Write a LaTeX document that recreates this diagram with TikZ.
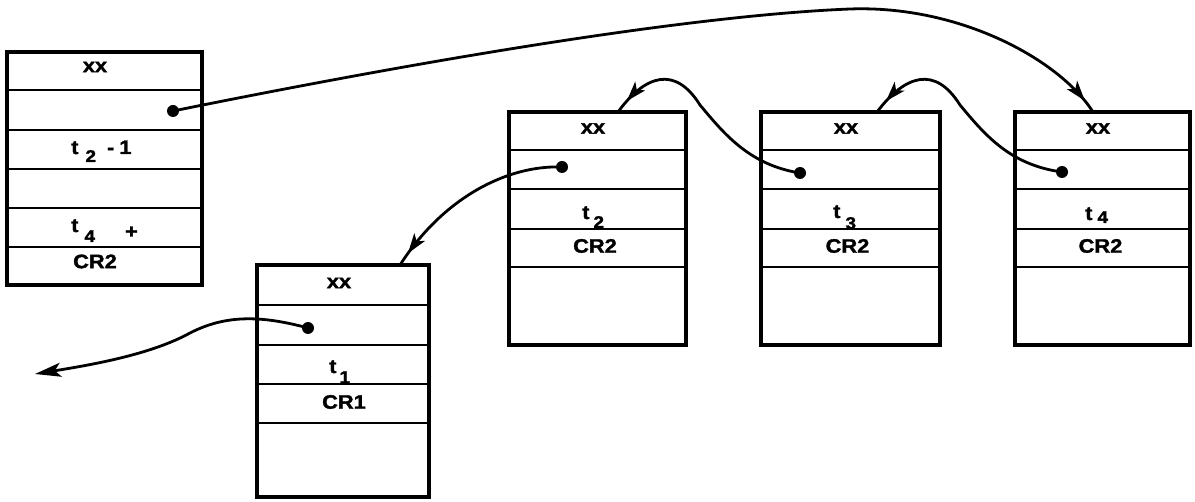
\documentclass[tikz,border=0pt]{standalone}
\usepackage{fontspec}
\newfontfamily\labfont{Liberation Sans}[FakeStretch=1.12, BoldFeatures={FakeBold=1.6}]
\usetikzlibrary{arrows.meta,decorations.markings}
\newcommand\subdig[2]{\raisebox{-#2}{\fontsize{17}{18}\selectfont #1}}
\tikzset{
  box/.style={draw, line width=3.6pt, rectangle, inner sep=0pt, outer sep=0pt},
  rowline/.style={line width=2.4pt},
  lab/.style={inner sep=0pt, font=\labfont\bfseries\fontsize{19.5}{22}\selectfont},
  ptr/.style={circle, fill, inner sep=0pt, minimum size=12pt},
  link/.style={line width=2.8pt},
  midtip/.style={postaction={decorate}, decoration={markings,
      mark=at position #1 with {\arrow{Stealth[length=20pt,width=13pt,inset=5pt]}}}},
}
\begin{document}
\begin{tikzpicture}[x=1pt,y=-1pt]
\useasboundingbox (0,0) rectangle (1195,502);
% boxes
\node[box, minimum width=195pt, minimum height=233pt] (b0) at (104.5,168.5) {};
\node[box, minimum width=172pt, minimum height=232pt] (b1) at (343,381) {};
\node[box, minimum width=177pt, minimum height=233pt] (b2) at (597.5,228.5) {};
\node[box, minimum width=179pt, minimum height=233pt] (b3) at (850.5,228.5) {};
\node[box, minimum width=175pt, minimum height=233pt] (b4) at (1102.5,228.5) {};
% row lines
\foreach \b/\d in {b0/38,b0/78,b0/117,b0/156,b0/195,
                   b1/40,b1/80,b1/119,b1/158,
                   b2/38,b2/77,b2/117,b2/155,
                   b3/38,b3/77,b3/117,b3/155,
                   b4/38,b4/77,b4/117,b4/155}
  \draw[rowline] ([yshift=-\d pt]\b.north west) -- ([yshift=-\d pt]\b.north east);
% labels box0
\node[lab] (x0) at (95,67) {xx};
\node[lab, anchor=base west] (t0a) at (71,154) {t\hspace{7pt}\subdig{2}{8pt}\hspace{11pt}-\hspace{5pt}1};
\node[lab, anchor=base west] (t0b) at (71,232) {t\hspace{6pt}\subdig{4}{10pt}\hspace{30pt}\raisebox{-6pt}{+}};
\node[lab] (c0) at (95,261.5) {CR2};
% labels box1
\node[lab] (x1) at (339,283) {xx};
\node[lab, anchor=base west] (t1) at (329,373) {t\hspace{3pt}\subdig{1}{10pt}};
\node[lab] (c1) at (344,402) {CR1};
% labels box2
\node[lab] (x2) at (593,128.5) {xx};
\node[lab, anchor=base west] (t2) at (582,219) {t\hspace{4pt}\subdig{2}{9pt}};
\node[lab] (c2) at (595,246) {CR2};
% labels box3
\node[lab] (x3) at (846,128.5) {xx};
\node[lab, anchor=base west] (t3) at (833,218) {t\hspace{5pt}\subdig{3}{11pt}};
\node[lab] (c3) at (847.5,246) {CR2};
% labels box4
\node[lab] (x4) at (1098,128.5) {xx};
\node[lab, anchor=base west] (t4) at (1085,220) {t\hspace{5pt}\subdig{4}{3pt}};
\node[lab] (c4) at (1100.5,246) {CR2};
% pointer dots
\node[ptr] (p0) at (173,111) {};
\node[ptr] (p1) at (308,328) {};
\node[ptr] (p2) at (562,167) {};
\node[ptr] (p3) at (800,173) {};
\node[ptr] (p4) at (1062,172) {};
\coordinate (lend) at (35,374);
% connectors
\draw[link, midtip=-14pt] (p0.center) .. controls (450,55) and (700,15) .. (850,9)
      .. controls (960,5) and (1060,60) .. ([xshift=-9.5pt]b4.north);
\draw[link, midtip=-14pt] (p4.center) .. controls (1010,165) and (985,135) .. (960,105)
      .. controls (935,65) and (905,75) .. ([xshift=26.5pt]b3.north);
\draw[link, midtip=-14pt] (p3.center) .. controls (750,165) and (725,135) .. (700,105)
      .. controls (675,65) and (645,75) .. ([xshift=20.5pt]b2.north);
\draw[link, midtip=-14pt] (p2.center) .. controls (510,165) and (445,195) .. ([xshift=57pt]b1.north);
\draw[link, -{Stealth[length=26pt,width=14pt,inset=6pt]}] (p1.center) .. controls (260,315) and (225,315) .. (190,333)
      .. controls (150,355) and (90,365) .. (lend);
\end{tikzpicture}
\end{document}
